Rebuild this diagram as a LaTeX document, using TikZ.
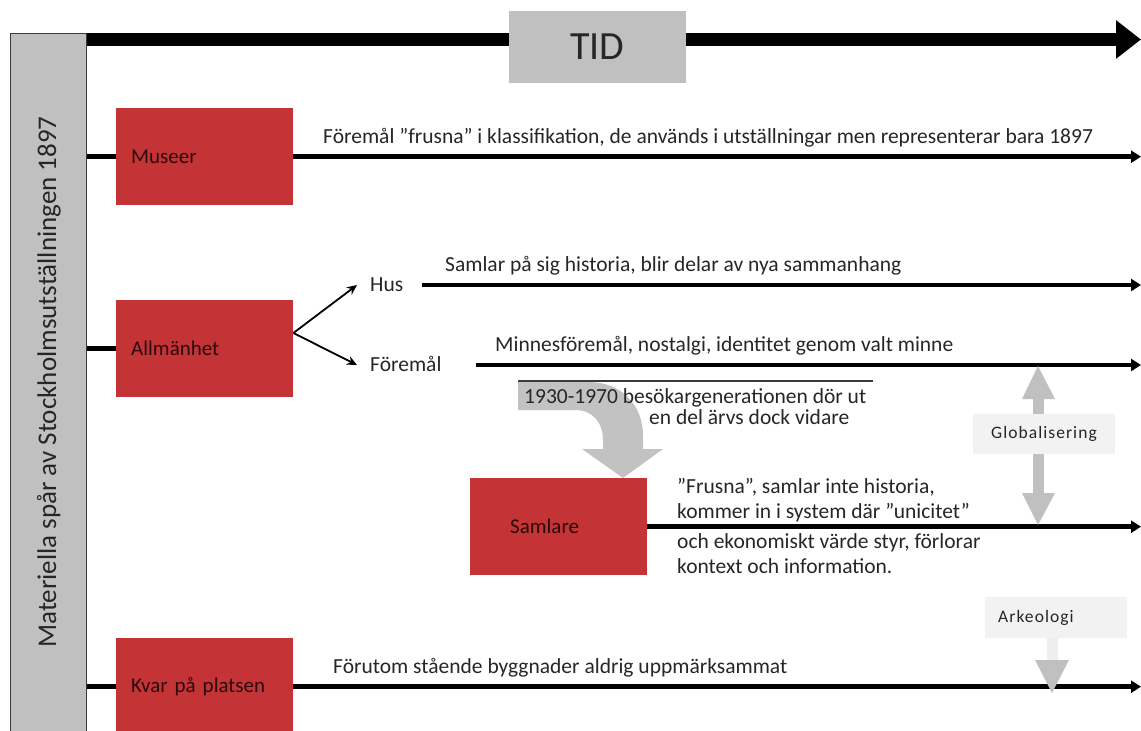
\documentclass[tikz,border=0pt]{standalone}
\usepackage{fontspec}
\setmainfont{Carlito}
\usetikzlibrary{arrows.meta,calc}
\definecolor{boxred}{HTML}{C43335}
\definecolor{bargray}{HTML}{C0C0C0}
\definecolor{bandgray}{HTML}{C2C2C2}
\definecolor{palegray}{HTML}{F2F2F2}
\definecolor{shaftgray}{HTML}{EEEEEE}
\definecolor{txt}{HTML}{262626}
\definecolor{redtxt}{HTML}{2A0A0A}
\definecolor{edge}{HTML}{3A3A3A}
\begin{document}
\begin{tikzpicture}[x=1pt,y=-1pt,
  redbox/.style={fill=boxred, draw=none, minimum width=177pt, minimum height=97pt,
    text width=147pt, inner xsep=15pt, inner ysep=0pt, align=left, anchor=north west,
    text=redtxt, font=\fontsize{21}{24}\selectfont},
  desc/.style={anchor=base west, inner sep=0pt, text=txt, font=\fontsize{21.5}{25}\selectfont},
  tline/.style={line width=4.5pt, black},
  tarrow/.style={line width=4.5pt, black, -{Triangle[length=10pt,width=12pt]}},
  branch/.style={line width=1.8pt, black, -{Stealth[length=10pt,width=9pt]}},
  palebox/.style={fill=palegray, draw=none, inner sep=0pt, text=txt,
    font=\fontsize{17.5}{20}\selectfont}
]
\path[use as bounding box] (0,0) rectangle (1141,731);

% left bar
\node[fill=bargray, draw=edge, line width=1pt, minimum width=76pt, minimum height=712pt,
  inner sep=0pt, anchor=north west] (bar) at (10,33) {};
\node[rotate=90, text=txt, font=\fontsize{27}{32}\selectfont, inner sep=0pt] (bartext) at (49,382)
  {Materiella spår av Stockholmsutställningen 1897};

% time arrow
\coordinate (tidend) at (1141,39.5);
\draw[line width=13pt, black, -{Triangle[length=25pt,width=37pt]}]
  ($(bar.north east)+(0,6.5)$) -- (tidend);
\node[fill=bargray, minimum width=177pt, minimum height=72pt, inner sep=0pt,
  text=txt, font=\fontsize{40}{44}\selectfont] (tid) at (597.5,47) {TID};

% red boxes
\node[redbox] (museer) at (116,108) {Museer};
\node[redbox] (allm) at (116,300) {Allmänhet};
\node[redbox, inner xsep=40pt, text width=97pt] (samlare) at (470,478) {Samlare};
\node[redbox] (kvar) at (116,638) {Kvar på platsen};

% Museer row
\draw[tline] (bar.east |- museer.west) -- (museer.west);
\draw[tarrow] (museer.east) -- (museer.east -| tidend);
\node[desc] (museertext) at (323,143)
  {Föremål ”frusna” i klassifikation, de används i utställningar men representerar bara 1897};

% Allmänhet row
\draw[tline] (bar.east |- allm.west) -- (allm.west);
\coordinate (branchstart) at ($(allm.north east)+(0,33)$);
\coordinate (husarr) at (357,285);
\coordinate (foremarr) at (357,365);
\draw[branch] (branchstart) -- (husarr);
\draw[branch] (branchstart) -- (foremarr);
\node[desc] (hus) at (370,291) {Hus};
\node[desc] (foremal) at (370,371) {Föremål};
\coordinate (husline) at (422,285);
\coordinate (foremline) at (476,365);
\draw[tarrow] (husline) -- (husline -| tidend);
\draw[tarrow] (foremline) -- (foremline -| tidend);
\node[desc] (hustext) at (445,271) {Samlar på sig historia, blir delar av nya sammanhang};
\node[desc] (foremtext) at (495,351) {Minnesföremål, nostalgi, identitet genom valt minne};

% curved gray arrow
\fill[bandgray] (518,382) -- (588,382)
  .. controls (622,382) and (643,405) .. (643,436) -- (643,449) -- (663,449)
  -- (623,478) -- (582,449) -- (603,449) -- (603,440)
  .. controls (603,422) and (592,410) .. (575,410) -- (518,410) -- cycle;
\coordinate (rulestart) at (518,381);
\coordinate (ruleend) at (873,381);
\draw[line width=1.3pt, edge] (rulestart) -- (ruleend);
\node[desc] (gen1) at (524,403) {1930-1970 besökargenerationen dör ut};
\node[desc] (gen2) at (649,424) {en del ärvs dock vidare};

% Samlare row
\draw[tarrow] (samlare.east) -- (samlare.east -| tidend);
\node[desc] (s1) at (677,493) {”Frusna”, samlar inte historia,};
\node[desc] (s2) at (677,518) {kommer in i system där ”unicitet”};
\node[desc] (s3) at (677,548) {och ekonomiskt värde styr, förlorar};
\node[desc] (s4) at (677,573) {kontext och information.};

% Globalisering double arrow
\coordinate (gtop) at (1038,366);
\coordinate (gbot) at (1038,525);
\draw[line width=11pt, bargray] ($(gtop)+(0,30)$) -- ($(gbot)+(0,-30)$);
\fill[bargray] (gtop) -- ($(gtop)+(17,33)$) -- ($(gtop)+(-16,33)$) -- cycle;
\fill[bargray] (gbot) -- ($(gbot)+(17,-32)$) -- ($(gbot)+(-16,-32)$) -- cycle;
\node[palebox, minimum width=142pt, minimum height=40pt] (glob) at (1044,434)
  {\addfontfeature{LetterSpace=6}Globalisering};

% Kvar row
\draw[tline] (bar.east |- kvar.west) -- (kvar.west);
\draw[tarrow] (kvar.east) -- (kvar.east -| tidend);
\node[desc] (kvartext) at (333,673) {Förutom stående byggnader aldrig uppmärksammat};

% Arkeologi
\node[palebox, minimum width=142pt, minimum height=41pt, anchor=north west,
  text width=116pt, inner xsep=13pt, align=left] (ark) at (985,597)
  {\addfontfeature{LetterSpace=6}Arkeologi};
\coordinate (arktip) at (1052,693);
\draw[line width=11pt, shaftgray] (ark.south -| arktip) -- ($(arktip)+(0,-33)$);
\fill[bargray] (arktip) -- ($(arktip)+(17,-33)$) -- ($(arktip)+(-17,-33)$) -- cycle;
\end{tikzpicture}
\end{document}
